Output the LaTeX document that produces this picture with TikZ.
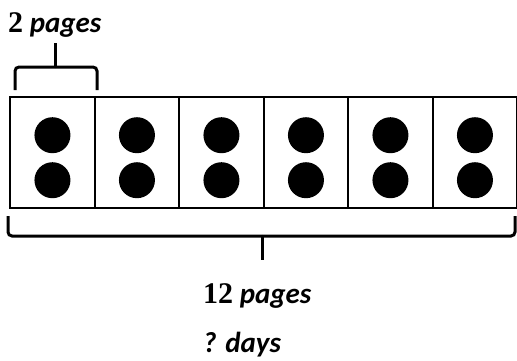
\documentclass[tikz,border=0pt]{standalone}
\usepackage{fontspec}
\usetikzlibrary{calc}
\setmainfont{Carlito}
\newfontfamily\numfont{Liberation Serif}
\begin{document}
\begin{tikzpicture}[x=1pt,y=-1pt,
  cell/.style={draw=black,line width=2.4pt,minimum width=84.5pt,minimum height=111pt,inner sep=0pt,anchor=north west},
  dot/.style={circle,fill=black,minimum size=36pt,inner sep=0pt},
  brace/.style={line width=3pt,rounded corners=4pt},
  lbl/.style={font=\fontsize{29}{34}\selectfont\bfseries\itshape,anchor=base west,inner sep=0pt},
  num/.style={font=\fontsize{30}{34}\selectfont\numfont\bfseries}]
\useasboundingbox (0,0) rectangle (517,360);
\foreach \i in {1,...,6}{
  \node[cell] (c\i) at ({9+(\i-1)*84.5},96) {};
  \node[dot] (u\i) at ($(c\i.center)+(0,-17.5)$) {};
  \node[dot] (l\i) at ($(c\i.center)+(0,27.5)$) {};
}
% top brace
\draw[brace] (15,90) |- (55,67);
\draw[brace] (97,90) |- (55,67);
\draw[line width=3pt] (55,68) -- (55,43);
% bottom brace
\draw[brace] (8,216) |- (262,236);
\draw[brace] (515,216) |- (262,236);
\draw[line width=3pt] (262,235) -- (262,260);
\node[lbl] (t1) at (8,32) {{\fontsize{30}{34}\selectfont\numfont\upshape 2} pages};
\node[lbl] (t2) at (203,303) {{\fontsize{30}{34}\selectfont\numfont\upshape 12} pages};
\node[lbl] (t3) at (203,352) {? days};
\end{tikzpicture}
\end{document}
